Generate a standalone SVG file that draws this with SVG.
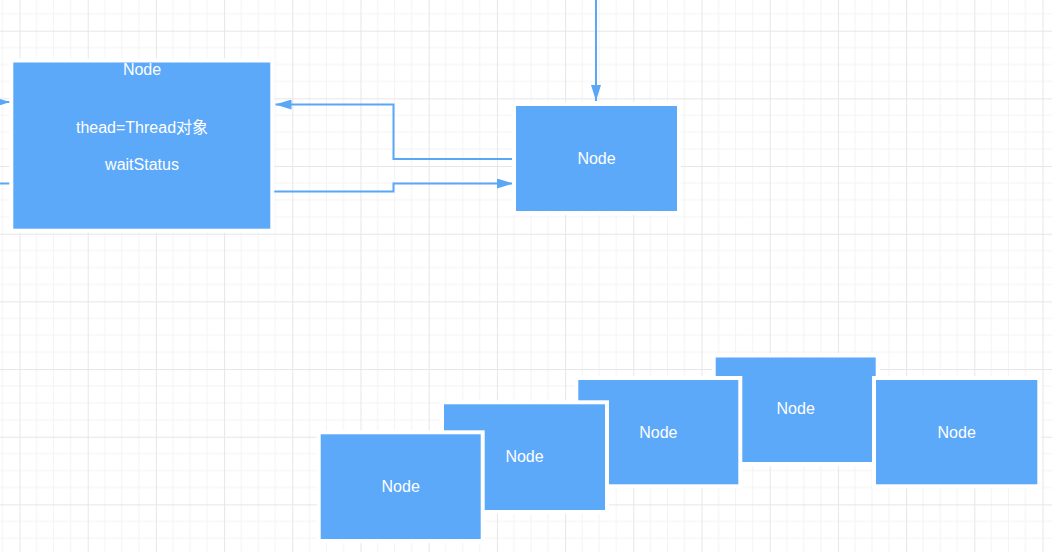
<svg xmlns="http://www.w3.org/2000/svg" width="1052" height="552" viewBox="0 0 1052 552">
  <style>
    .node { fill: #5ca8f9; stroke: #ffffff; stroke-width: 8; paint-order: stroke; }
    .lbl { fill: #ffffff; font-family: "Liberation Sans", "Noto Sans CJK SC", sans-serif; font-size: 16px; text-anchor: middle; }
    .conn { fill: none; stroke: #5aa6f7; stroke-width: 2; }
    .minor { stroke: #f3f3f4; stroke-width: 1; }
    .major { stroke: #e6e6ea; stroke-width: 1; }
  </style>
  <defs>
    <pattern id="grid" patternUnits="userSpaceOnUse" x="19.5" y="30.7" width="68.2" height="67.67">
      <line class="minor" x1="17.05" y1="0" x2="17.05" y2="67.67"/>
      <line class="minor" x1="34.1" y1="0" x2="34.1" y2="67.67"/>
      <line class="minor" x1="51.15" y1="0" x2="51.15" y2="67.67"/>
      <line class="minor" x1="0" y1="16.92" x2="68.2" y2="16.92"/>
      <line class="minor" x1="0" y1="33.83" x2="68.2" y2="33.83"/>
      <line class="minor" x1="0" y1="50.75" x2="68.2" y2="50.75"/>
      <line class="major" x1="0.5" y1="0" x2="0.5" y2="67.67"/>
      <line class="major" x1="0" y1="0.5" x2="68.2" y2="0.5"/>
    </pattern>
    <marker id="arrow" markerUnits="userSpaceOnUse" markerWidth="16" markerHeight="10" refX="16" refY="5" orient="auto">
      <path d="M0,0 L16,5 L0,10 Z" fill="#5aa6f7"/>
    </marker>
  </defs>
  <rect x="0" y="0" width="1052" height="552" fill="#ffffff"/>
  <rect x="0" y="0" width="1052" height="552" fill="url(#grid)"/>

  <g id="connectors">
    <path class="conn" d="M-10,102 L10,102" marker-end="url(#arrow)"/>
    <path class="conn" d="M13,183.5 L-5,183.5"/>
    <path class="conn" d="M596,0 L596,101" marker-end="url(#arrow)"/>
    <path class="conn" d="M512,159 L393.5,159 L393.5,104.5 L275.5,104.5" marker-end="url(#arrow)"/>
    <path class="conn" d="M274,191.5 L393.5,191.5 L393.5,183.5 L513,183.5" marker-end="url(#arrow)"/>
  </g>

  <g id="node-main">
    <rect class="node" x="13.3" y="62.5" width="257" height="166.2"/>
    <text class="lbl" x="142" y="75">Node</text>
    <text class="lbl" x="142" y="133">thead=Thread对象</text>
    <text class="lbl" x="142" y="170">waitStatus</text>
  </g>
  <g id="node-right">
    <rect class="node" x="516" y="106" width="161" height="105"/>
    <text class="lbl" x="596.5" y="164">Node</text>
  </g>
  <g id="node-b4">
    <rect class="node" x="715.7" y="357.5" width="160" height="104.5"/>
    <text class="lbl" x="795.7" y="414">Node</text>
  </g>
  <g id="node-b3">
    <rect class="node" x="578.3" y="380" width="160" height="104.3"/>
    <text class="lbl" x="658.3" y="437.5">Node</text>
  </g>
  <g id="node-b5">
    <rect class="node" x="876" y="380" width="161.3" height="104.3"/>
    <text class="lbl" x="956.7" y="437.5">Node</text>
  </g>
  <g id="node-b2">
    <rect class="node" x="444" y="404.3" width="161" height="105.7"/>
    <text class="lbl" x="524.5" y="461.5">Node</text>
  </g>
  <g id="node-b1">
    <rect class="node" x="320.7" y="434.3" width="160" height="104.7"/>
    <text class="lbl" x="400.7" y="492">Node</text>
  </g>
</svg>
